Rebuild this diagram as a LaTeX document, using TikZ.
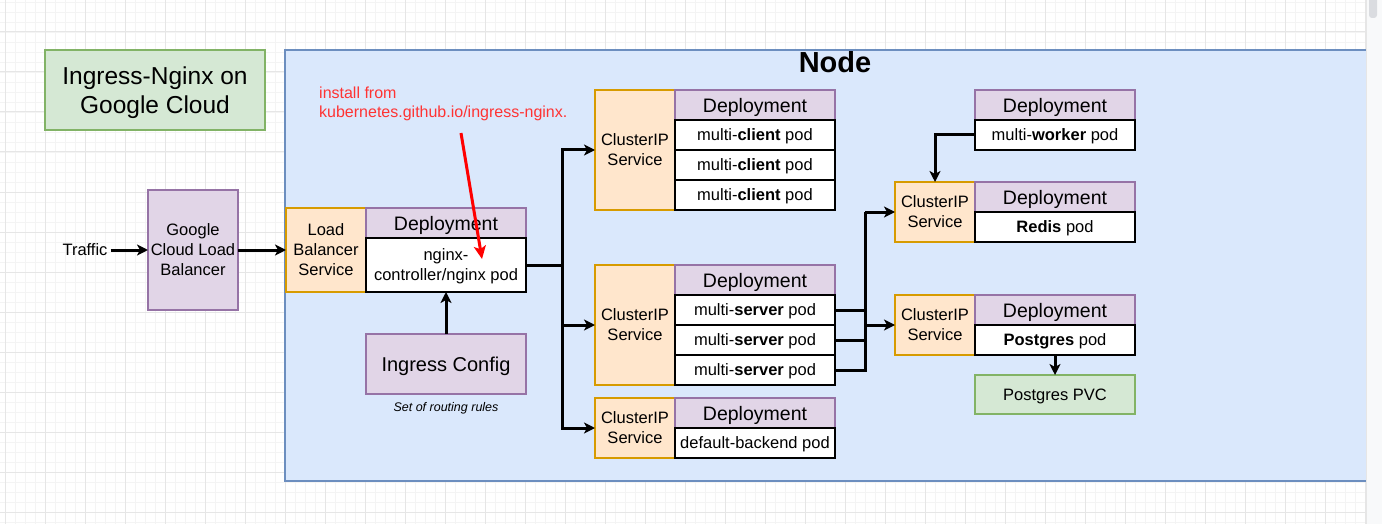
\documentclass[tikz,border=0pt]{standalone}
\usepackage{fontspec}
\setmainfont{Liberation Sans}
\usetikzlibrary{arrows.meta}
\definecolor{purpF}{HTML}{E1D5E7}
\definecolor{purpD}{HTML}{9673A6}
\definecolor{orgF}{HTML}{FFE6CC}
\definecolor{orgD}{HTML}{D79B00}
\definecolor{grnF}{HTML}{D5E8D4}
\definecolor{grnD}{HTML}{82B366}
\definecolor{bluF}{HTML}{DAE8FC}
\definecolor{bluD}{HTML}{6C8EBF}
\definecolor{redT}{HTML}{FF3333}
\definecolor{gridMin}{HTML}{F4F4F4}
\definecolor{gridMaj}{HTML}{E6E6E6}
\definecolor{scrollF}{HTML}{F8F9FA}
\definecolor{scrollT}{HTML}{DADCE0}
\newcommand\fs[2]{\fontsize{#1}{#2}\selectfont}
\newcommand\bx[7]{\node[#1, minimum width=#5pt, minimum height=#6pt] (#2) at (#3,#4) {#7};}
\tikzset{
  box/.style={draw, line width=1.5pt, inner sep=0pt, outer sep=0pt, anchor=north west, align=center, text depth=0pt},
  purp/.style={box, fill=purpF, draw=purpD},
  org/.style={box, fill=orgF, draw=orgD, line width=2pt, font=\fs{16.5}{20}},
  grn/.style={box, fill=grnF, draw=grnD, line width=2pt},
  dep/.style={purp, font=\fs{19.5}{22}},
  pod/.style={box, fill=white, draw=black, line width=2pt, font=\fs{16.5}{20}},
  conn/.style={line width=3pt, line join=miter, -{Stealth[length=11pt,width=11pt,inset=3pt]}},
  wire/.style={line width=3pt, line join=miter},
  redarrow/.style={draw=red, line width=3pt, -{Stealth[length=13pt,width=12pt,inset=3pt]}},
}
\begin{document}
\begin{tikzpicture}[x=1pt,y=-1pt]
\useasboundingbox (0,0) rectangle (1382,524);
\fill[white] (0,0) rectangle (1382,524);
% grid
\foreach \x in {-5,5,...,1385} \draw[gridMin, line width=0.8pt] (\x,0) -- (\x,524);
\foreach \y in {2,12,...,522} \draw[gridMin, line width=0.8pt] (0,\y) -- (1382,\y);
\foreach \x in {5,45,...,1365} \draw[gridMaj, line width=1pt] (\x,0) -- (\x,524);
\foreach \y in {32,72,...,512} \draw[gridMaj, line width=1pt] (0,\y) -- (1382,\y);

% title
\bx{grn, font=\fs{24.5}{29}, text depth=-4pt}{title}{45}{50}{220}{80}{Ingress-Nginx on\\Google Cloud}

% Node container
\draw[fill=bluF, draw=bluD, line width=2pt] (285,50) rectangle (1400,481);
\node[font=\fs{29}{32}\bfseries] (nodetitle) at (835,62) {Node};

% red note
\node[anchor=north west, inner sep=0pt, align=left, text=redT, font=\fs{16}{18.5}] (note) at (319,87) {install from\\kubernetes.github.io/ingress-nginx.};

% left part
\node[font=\fs{16.5}{20}, inner sep=0pt] (traffic) at (85,250) {Traffic};
\bx{purp, font=\fs{16.5}{20}, line width=2pt}{glb}{148}{190}{90}{120}{Google\\Cloud Load\\Balancer}
\bx{org}{lbs}{286}{208}{80}{84}{Load\\Balancer\\Service}
\bx{dep}{dep0}{366}{208}{160}{30}{Deployment}
\bx{pod}{nginx}{366}{238}{160}{54}{\fs{16.5}{22}nginx-\\controller/nginx pod}
\bx{purp, font=\fs{20}{24}, line width=2pt, text depth=-3pt}{ingress}{366}{334}{160}{60}{Ingress Config}
\node[font=\fs{12.5}{14}\itshape, inner sep=0pt] (rules) at (446,408) {Set of routing rules};

% client group
\bx{org}{cipc}{595}{90}{80}{120}{ClusterIP\\Service}
\bx{dep}{depc}{675}{90}{160}{30}{Deployment}
\bx{pod}{c1}{675}{120}{160}{30}{multi-\textbf{client} pod}
\bx{pod}{c2}{675}{150}{160}{30}{multi-\textbf{client} pod}
\bx{pod}{c3}{675}{180}{160}{30}{multi-\textbf{client} pod}

% server group
\bx{org}{cips}{595}{265}{80}{120}{ClusterIP\\Service}
\bx{dep}{deps}{675}{265}{160}{30}{Deployment}
\bx{pod}{s1}{675}{295}{160}{30}{multi-\textbf{server} pod}
\bx{pod}{s2}{675}{325}{160}{30}{multi-\textbf{server} pod}
\bx{pod}{s3}{675}{355}{160}{30}{multi-\textbf{server} pod}

% default backend
\bx{org}{cipd}{595}{398}{80}{60}{ClusterIP\\Service}
\bx{dep}{depd}{675}{398}{160}{30}{Deployment}
\bx{pod}{dpod}{675}{428}{160}{30}{default-backend pod}

% worker
\bx{dep}{depw}{975}{90}{160}{30}{Deployment}
\bx{pod}{wpod}{975}{120}{160}{30}{multi-\textbf{worker} pod}

% redis
\bx{org}{cipr}{895}{182}{80}{60}{ClusterIP\\Service}
\bx{dep}{depr}{975}{182}{160}{30}{Deployment}
\bx{pod}{rpod}{975}{212}{160}{30}{\textbf{Redis} pod}

% postgres
\bx{org}{cipp}{895}{295}{80}{60}{ClusterIP\\Service}
\bx{dep}{depp}{975}{295}{160}{30}{Deployment}
\bx{pod}{ppod}{975}{325}{160}{30}{\textbf{Postgres} pod}
\bx{grn, font=\fs{16.5}{20}}{pvc}{975}{375}{160}{39}{Postgres PVC}

% connectors
\draw[conn] (traffic.east) ++(3,0) -- (glb.west);
\draw[conn] (glb.east) -- (lbs.west);
\draw[conn] (ingress.north) -- (nginx.south);

\coordinate (busL) at (562,0);
\draw[conn] (nginx.east) -- (nginx.east -| busL) |- (cipc.west);
\draw[conn] (nginx.east) -- (nginx.east -| busL) |- (cips.west);
\draw[conn] (nginx.east) -- (nginx.east -| busL) |- (cipd.west);

\coordinate (busR) at (865,0);
\draw[wire] (s1.east) -- (s1.east -| busR);
\draw[wire] (s2.east) -- (s2.east -| busR);
\draw[wire] (s3.east) -- (s3.east -| busR) -- (cipr.west -| busR);
\draw[conn] (cipr.west -| busR) -- (cipr.west);
\draw[conn] (cipp.west -| busR) -- (cipp.west);

\draw[conn] (wpod.west) -| (cipr.north);
\draw[conn] (ppod.south) -- (pvc.north);

\coordinate (redA) at (461,133);
\coordinate (redB) at (482,259);
\draw[redarrow] (redA) -- (redB);

% scrollbar
\fill[scrollF] (1366,0) rectangle (1382,524);
\draw[gridMaj, line width=0.8pt] (1366,0) -- (1366,524);
\fill[scrollT, rounded corners=3pt] (1369,-4) rectangle (1377,18);
\end{tikzpicture}
\end{document}
